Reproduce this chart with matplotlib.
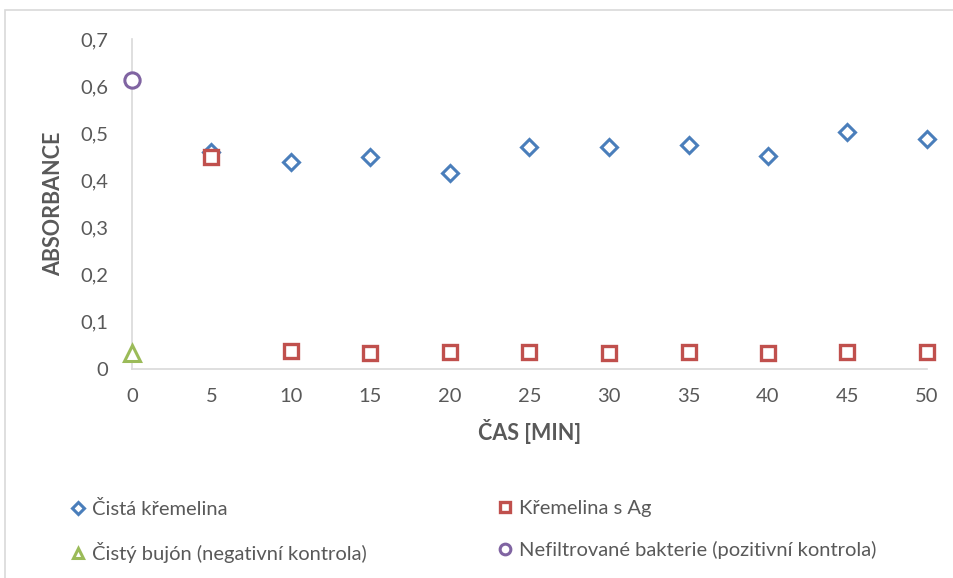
import matplotlib
matplotlib.use("Agg")
import matplotlib.pyplot as plt
from matplotlib.patches import Rectangle
from matplotlib.ticker import FuncFormatter, MultipleLocator

plt.rcParams['font.family'] = ['Lato', 'DejaVu Sans']

# Measurements
cas = [5, 10, 15, 20, 25, 30, 35, 40, 45, 50]
cista_kremelina = [0.461, 0.439, 0.450, 0.416, 0.471, 0.471, 0.476, 0.452, 0.503, 0.488]
kremelina_ag = [0.450, 0.038, 0.034, 0.036, 0.036, 0.035, 0.037, 0.034, 0.036, 0.036]
bujon_cas = [0]
bujon = [0.034]
bakterie_cas = [0]
bakterie = [0.614]

x_ticks = [0, 5, 10, 15, 20, 25, 30, 35, 40, 45, 50]

BLUE = '#4a7ebb'
RED = '#c0504d'
GREEN = '#9bbb59'
PURPLE = '#8064a2'
GRAY = '#595959'

fig = plt.figure(figsize=(9.54, 5.78), dpi=100)
ax = fig.add_axes([132 / 954, 1 - 369 / 578, (927 - 132) / 954, (369 - 39) / 578])

ax.plot(cas, cista_kremelina, linestyle='none', marker='D', ms=8.5,
        mfc='white', mec=BLUE, mew=2.2, label='Čistá křemelina', clip_on=False, zorder=3)
ax.plot(cas, kremelina_ag, linestyle='none', marker='s', ms=10.5,
        mfc='white', mec=RED, mew=2.4, label='Křemelina s Ag', clip_on=False, zorder=4)
ax.plot(bujon_cas, bujon, linestyle='none', marker='^', ms=11,
        mfc='white', mec=GREEN, mew=2.2, label='Čistý bujón (negativní kontrola)',
        clip_on=False, zorder=4)
ax.plot(bakterie_cas, bakterie, linestyle='none', marker='o', ms=11,
        mfc='white', mec=PURPLE, mew=2.2,
        label='Nefiltrované bakterie (pozitivní kontrola)', clip_on=False, zorder=4)

ax.set_xlim(0, 50)
ax.set_ylim(0, 0.7)
ax.set_xticks(x_ticks)
ax.yaxis.set_major_locator(MultipleLocator(0.1))
ax.yaxis.set_major_formatter(
    FuncFormatter(lambda v, p: '0' if abs(v) < 1e-9 else f'{v:.1f}'.replace('.', ',')))

for side in ('top', 'right'):
    ax.spines[side].set_visible(False)
for side in ('left', 'bottom'):
    ax.spines[side].set_color('#d9d9d9')
    ax.spines[side].set_linewidth(1.2)
ax.tick_params(length=0, labelsize=14.5, colors=GRAY)
ax.tick_params(axis='y', pad=17)
ax.tick_params(axis='x', pad=14)

ax.set_xlabel('ČAS [MIN]', fontsize=15.5, fontweight='bold', color=GRAY, labelpad=10)
ax.set_ylabel('ABSORBANCE', fontsize=15.5, fontweight='bold', color=GRAY, labelpad=12)

# Legend in two columns below the plot
h = {l.get_label(): l for l in ax.get_lines()}
leg_kw = dict(frameon=False, fontsize=14.5, labelcolor=GRAY, handletextpad=0.3,
              handlelength=0.8, labelspacing=1.2, borderaxespad=0, markerscale=0.7)
fig.legend([h['Čistá křemelina'], h['Čistý bujón (negativní kontrola)']],
           ['Čistá křemelina', 'Čistý bujón (negativní kontrola)'],
           loc='upper left', bbox_to_anchor=(62 / 954, 1 - 492 / 578), **leg_kw)
fig.legend([h['Křemelina s Ag'], h['Nefiltrované bakterie (pozitivní kontrola)']],
           ['Křemelina s Ag', 'Nefiltrované bakterie (pozitivní kontrola)'],
           loc='upper left', bbox_to_anchor=(489 / 954, 1 - 492 / 578), **leg_kw)

# Chart area border
fig.patches.append(Rectangle((5 / 954, -0.05), 1.1, 1.05 - 10 / 578,
                             transform=fig.transFigure, fill=False,
                             edgecolor='#d9d9d9', linewidth=1.2))

fig.savefig('out.png', dpi=100)
